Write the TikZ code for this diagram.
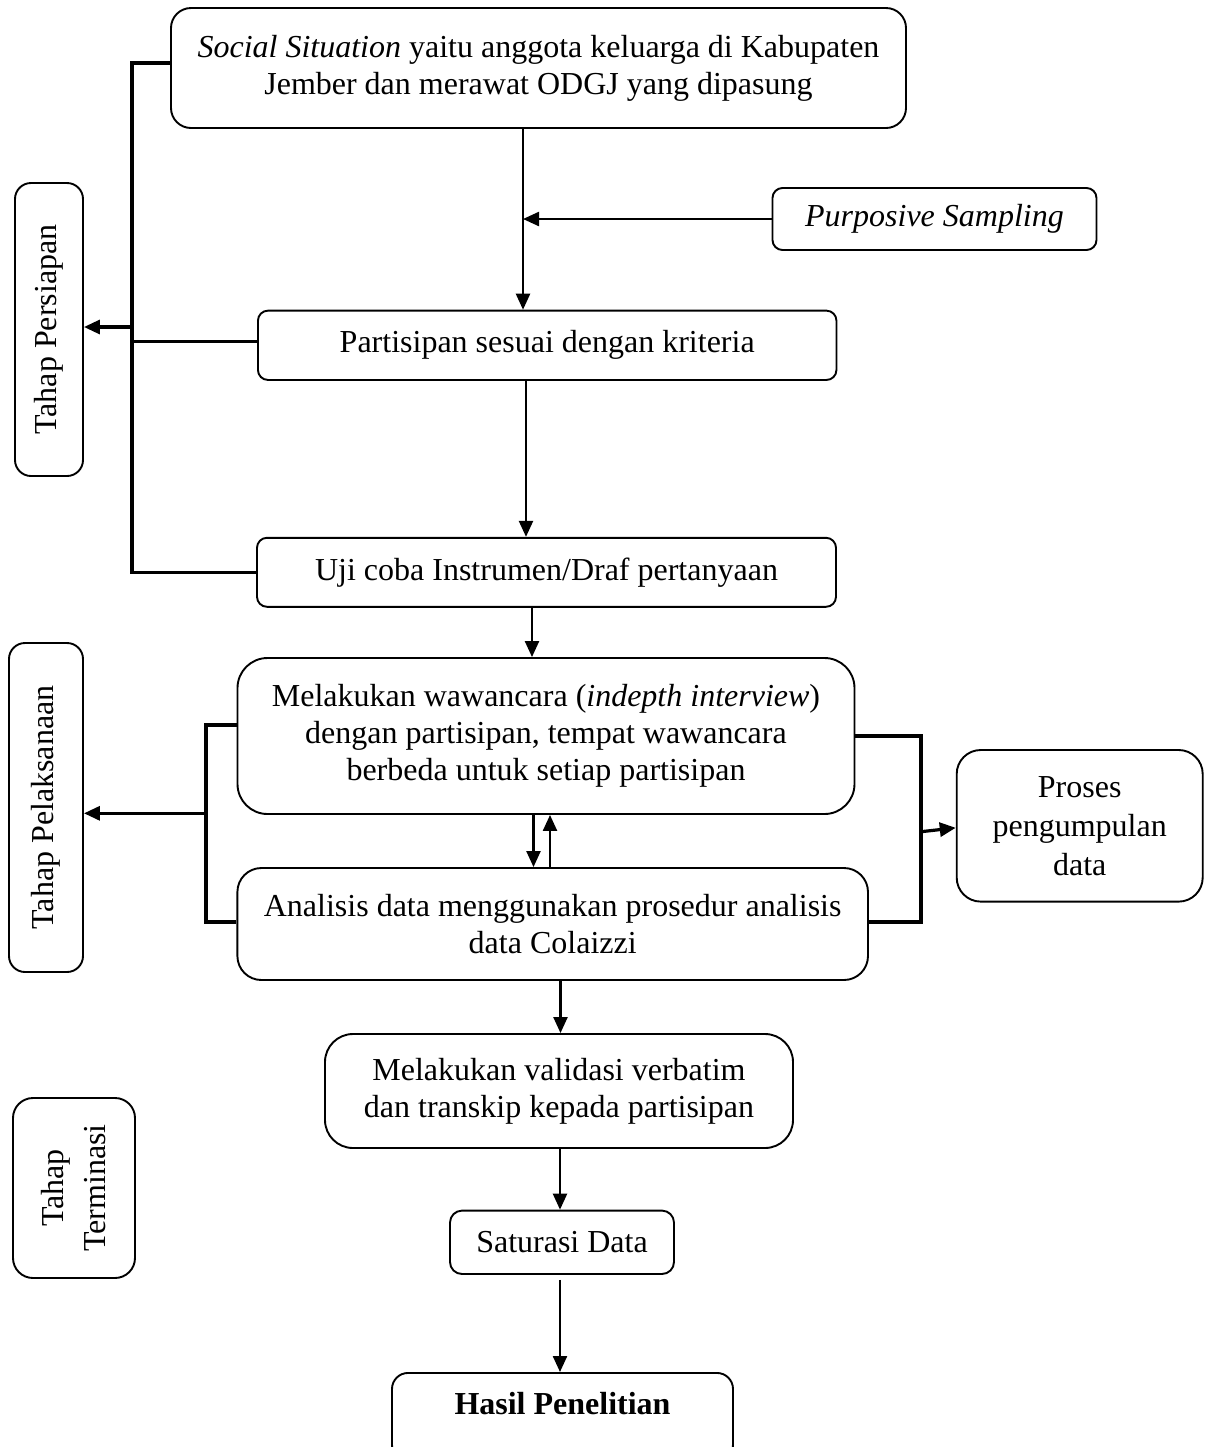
\documentclass[tikz,border=0pt]{standalone}
\usepackage{fontspec}
\setmainfont{Liberation Serif}
\usetikzlibrary{arrows.meta}
\begin{document}
\begin{tikzpicture}[x=0.5pt,y=-0.5pt,
  every node/.style={font=\fontsize{16}{18.5}\selectfont, align=center, inner sep=0pt},
  box/.style={draw, line width=0.95pt, rounded corners=#1},
  box/.default=6pt,
  arr/.style={line width=1.15pt, -{Triangle[length=8pt,width=7pt]}},
  brk/.style={line width=1.8pt},
  tarr/.style={line width=1.6pt, -{Triangle[length=8pt,width=7pt]}}
]
\path[use as bounding box] (0,0) rectangle (1208,1447);
\clip (0,0) rectangle (1208,1447);

% main boxes
\node[box=10pt, minimum width=367.5pt, minimum height=60pt] (box1) at (538.5,68)
  {\textit{Social Situation} yaitu anggota keluarga di Kabupaten\\Jember dan merawat ODGJ yang dipasung};
\node[box=5pt, minimum width=162pt, minimum height=31pt] (ps) at (934.5,219) {\textit{Purposive Sampling}};
\node[box=5pt, minimum width=289.25pt, minimum height=34.65pt] (part) at (547.2,345.3) {Partisipan sesuai dengan kriteria};
\node[box=5pt, minimum width=289.5pt, minimum height=34.5pt] (uji) at (546.5,572.3) {Uji coba Instrumen/Draf pertanyaan};
\node[box=15pt, minimum width=308.5pt, minimum height=78pt] (waw) at (546,736)
  {Melakukan wawancara (\textit{indepth interview})\\dengan partisipan, tempat wawancara\\berbeda untuk setiap partisipan};
\node[box=12pt, minimum width=315.3pt, minimum height=56pt] (ana) at (552.7,924)
  {Analisis data menggunakan prosedur analisis\\data Colaizzi};
\node[box=14pt, minimum width=234pt, minimum height=57pt] (val) at (559,1091)
  {Melakukan validasi verbatim\\dan transkip kepada partisipan};
\node[box=6pt, minimum width=112pt, minimum height=31.7pt] (sat) at (562,1242.3) {Saturasi Data};
\node[box=8pt, minimum width=170.5pt, text height=21pt, text depth=23pt, anchor=north,
  font=\fontsize{16}{18.5}\selectfont\bfseries] (hasil) at (562.5,1372) {Hasil Penelitian};
\node[box=12pt, minimum width=123pt, minimum height=75.8pt,
  font=\fontsize{16}{19.5}\selectfont] (proses) at (1079.7,825.8) {Proses\\pengumpulan\\data};

% stage boxes
\node[box=8pt, rotate=90, minimum width=146.5pt, minimum height=34pt] (pers) at (49,329.5) {Tahap Persiapan};
\node[box=8pt, rotate=90, minimum width=164.5pt, minimum height=37pt] (pel) at (46,807.5) {Tahap Pelaksanaan};
\node[box=10pt, rotate=90, minimum width=90pt, minimum height=61pt,
  font=\fontsize{16}{21}\selectfont] (term) at (74,1188) {Tahap\\Terminasi};

% connector x positions
\coordinate (x1) at (523,0);
\coordinate (x2) at (526,0);
\coordinate (x3) at (532,0);
\coordinate (x4) at (533.5,0);
\coordinate (x5) at (550,0);
\coordinate (x6) at (560.5,0);
\coordinate (x7) at (560,0);

% main flow arrows
\draw[arr] (box1.south -| x1) -- (part.north -| x1);
\draw[arr] (ps.west) -- (ps.west -| x1);
\draw[arr] (part.south -| x2) -- (uji.north -| x2);
\draw[arr] (uji.south -| x3) -- (waw.north -| x3);
\draw[arr] (waw.south -| x4) -- (ana.north -| x4);
\draw[arr] (ana.north -| x5) -- (waw.south -| x5);
\draw[arr] (ana.south -| x6) -- (val.north -| x6);
\draw[arr] (val.south -| x7) -- (sat.north -| x7);
\draw[arr, shorten <=2.5pt] (sat.south -| x7) -- (hasil.north -| x7);

% left bracket: preparation
\draw[brk] ([yshift=2.5pt]box1.west) -- ++(-38,0) |- (uji.west);
\draw[brk] ([yshift=2pt]part.west) -- ++(-125,0);
\coordinate (j1) at (133,327);
\draw[tarr] (j1) -- (j1 -| pers.south);

% left bracket: execution
\draw[brk] ([yshift=5.5pt]waw.west) -- ++(-30.6,0) |- ([yshift=1pt]ana.west);
\coordinate (j2) at (206.7,813.3);
\draw[tarr] (j2) -- (j2 -| pel.south);

% right bracket: data collection
\draw[brk] (waw.east) -- ++(65.5,0) |- ([yshift=1pt]ana.east);
\coordinate (j3) at (921,831.7);
\draw[tarr] (j3) -- ([yshift=-1pt]proses.west);
\end{tikzpicture}
\end{document}
